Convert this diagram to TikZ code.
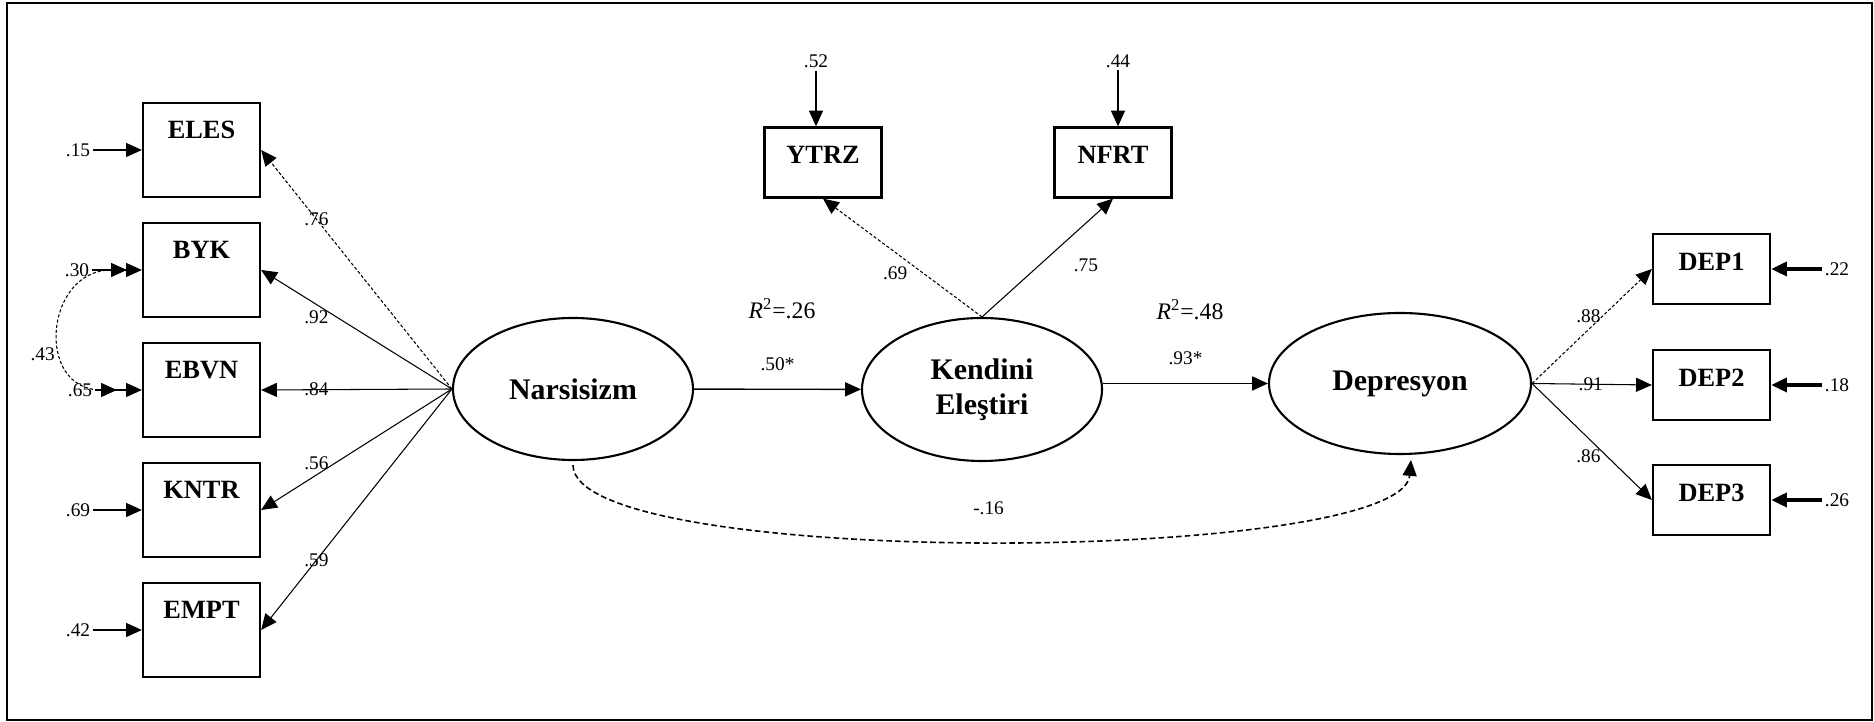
\documentclass[tikz,border=0pt]{standalone}
\usepackage{fontspec}
\setmainfont{Liberation Serif}
\usepackage{tikz}
\usetikzlibrary{arrows.meta}
\usetikzlibrary{shapes.geometric}
\usetikzlibrary{calc}

\tikzset{
    obs/.style={draw, line width=1.3pt, minimum width=2.34cm, minimum height=1.88cm, inner sep=0pt,
        font=\bfseries\fontsize{15}{18}\selectfont, text height=0.36cm, text depth=0.8cm},
    obssmall/.style={obs, minimum height=1.40cm, text depth=0.3cm},
    latent/.style={draw, ellipse, line width=1.2pt, inner sep=0pt, align=center,
        font=\bfseries\fontsize{17}{20}\selectfont},
    coef/.style={inner sep=1.5pt, font=\fontsize{11}{13}\selectfont},
    rsq/.style={inner sep=1pt, font=\fontsize{13.5}{16}\selectfont},
    load/.style={->, line width=0.6pt},
    link/.style={->, line width=0.8pt},
    err/.style={->, line width=0.6pt},
    errtop/.style={->, line width=0.9pt},
    errthick/.style={->, line width=2pt},
    finedash/.style={dash pattern=on 1.8pt off 1.2pt},
    covline/.style={->, line width=0.9pt, dash pattern=on 3.2pt off 1.8pt},
}

\begin{document}
\begin{tikzpicture}[>={Triangle[length=9pt,width=8pt]}]
    \useasboundingbox (0,0) rectangle (37.48,14.44);
    \draw[line width=1pt] (0.14,0.04) rectangle (37.44,14.38);

    \node[obs] (eles) at (4.03,11.44) {ELES};
    \node[obs] (byk)  at (4.03,9.04)  {BYK};
    \node[obs] (ebvn) at (4.03,6.64)  {EBVN};
    \node[obs] (kntr) at (4.03,4.24)  {KNTR};
    \node[obs] (empt) at (4.03,1.84)  {EMPT};

    \node[coef] (e15) at (1.56,11.44) {.15};
    \node[coef] (e30) at (1.54,9.04)  {.30};
    \node[coef] (e65) at (1.60,6.64)  {.65};
    \node[coef] (e69) at (1.56,4.24)  {.69};
    \node[coef] (e42) at (1.56,1.84)  {.42};
    \draw[err] (e15) -- (eles);
    \draw[err] (e30) -- (byk);
    \draw[err] (e65) -- (ebvn);
    \draw[err] (e69) -- (kntr);
    \draw[err] (e42) -- (empt);

    \coordinate (cbyk)  at ($(byk.west)+(-0.30,0)$);
    \coordinate (cebvn) at ($(ebvn.west)+(-0.50,0)$);
    \draw[<->, line width=0.6pt, finedash] (cbyk) to[out=180, in=180, looseness=1.75]
        node[coef, pos=0.64, left=0.1cm] {.43} (cebvn);

    \node[latent, minimum width=4.80cm, minimum height=2.84cm] (nars) at (11.46,6.66) {Narsisizm};
    \node[latent, minimum width=4.80cm, minimum height=2.86cm] (kend) at (19.64,6.65) {Kendini\\Eleştiri};
    \node[latent, minimum width=5.24cm, minimum height=2.82cm] (depr) at (28.00,6.77) {Depresyon};

    \draw[load, finedash] (nars.west) -- (eles.east) node[coef, pos=0.71] {.76};
    \draw[load] (nars.west) -- (byk.east)  node[coef, pos=0.71, yshift=-0.26cm] {.92};
    \draw[load] (nars.west) -- (ebvn.east) node[coef, pos=0.71] {.84};
    \draw[load] (nars.west) -- (kntr.east) node[coef, pos=0.71, yshift=0.24cm] {.56};
    \draw[load] (nars.west) -- (empt.east) node[coef, pos=0.71] {.59};

    \node[obssmall] (ytrz) at (16.46,11.19) {YTRZ};
    \node[obssmall] (nfrt) at (22.26,11.19) {NFRT};
    \node[coef] (e52) at (16.32,13.22) {.52};
    \node[coef] (e44) at (22.36,13.22) {.44};
    \draw[errtop] (e52) -- (e52 |- ytrz.north);
    \draw[errtop] (e44) -- (e44 |- nfrt.north);

    \draw[load, finedash] (kend.north) -- (ytrz.south) node[coef, pos=0.45, anchor=north east] {.69};
    \draw[load] (kend.north) -- (nfrt.south) node[coef, pos=0.6, below right=0.2cm] {.75};

    \node[rsq] (rkend) at (15.64,8.26) {\textit{R}\textsuperscript{2}=.26};
    \node[rsq] (rdepr) at (23.80,8.24) {\textit{R}\textsuperscript{2}=.48};

    \draw[link] (nars) -- (kend) node[coef, midway, above=0.3cm] {.50*};
    \draw[link] (kend.east |- depr) -- (depr.west) node[coef, midway, above=0.3cm] {.93*};

    \node[obssmall] (dep1) at (34.23,9.06) {DEP1};
    \node[obssmall] (dep2) at (34.23,6.74) {DEP2};
    \node[obssmall] (dep3) at (34.23,4.44) {DEP3};

    \draw[load, finedash] (depr.east) -- (dep1.west) node[coef, pos=0.47, yshift=0.26cm] {.88};
    \draw[load] (depr.east) -- (dep2.west) node[coef, pos=0.49] {.91};
    \draw[load] (depr.east) -- (dep3.west) node[coef, pos=0.47, yshift=-0.36cm] {.86};

    \node[coef] (e22) at (36.74,9.06) {.22};
    \node[coef] (e18) at (36.74,6.74) {.18};
    \node[coef] (e26) at (36.74,4.44) {.26};
    \draw[errthick] (e22) -- (dep1);
    \draw[errthick] (e18) -- (dep2);
    \draw[errthick] (e26) -- (dep3);

    \draw[covline] ([yshift=-0.08cm]nars.south) to[out=-90, in=-95, looseness=0.32]
        node[coef, midway, above=0.45cm] {-.16} ([xshift=0.22cm,yshift=-0.1cm]depr.south);
\end{tikzpicture}
\end{document}
